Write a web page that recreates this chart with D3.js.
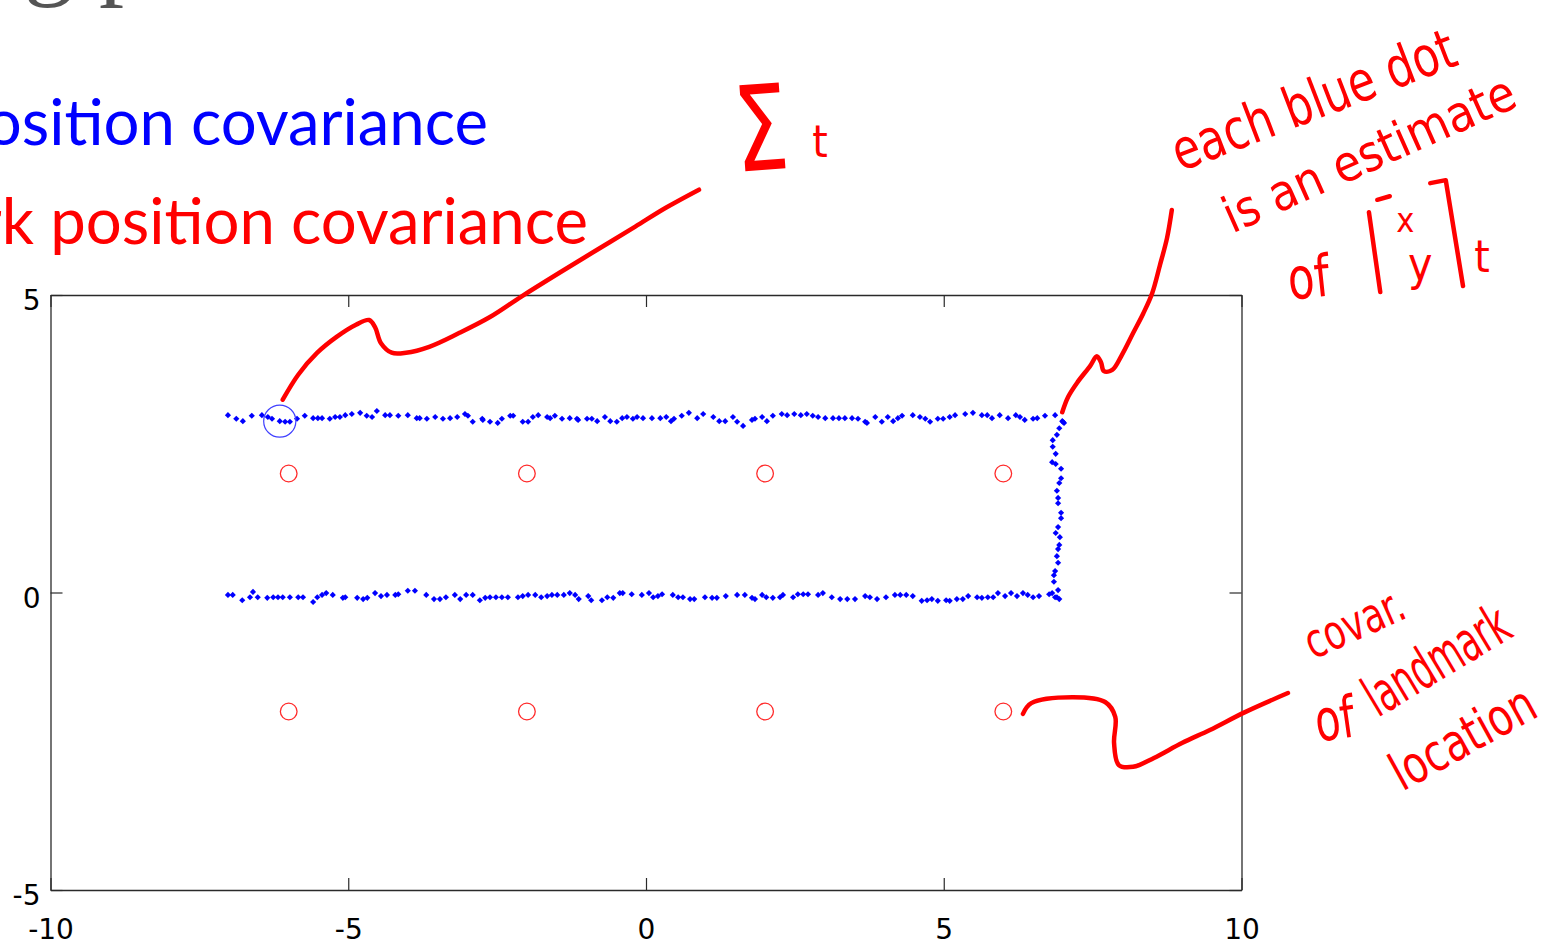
<!DOCTYPE html>
<html>
<head>
<meta charset="utf-8">
<script src="https://cdn.jsdelivr.net/npm/d3@7"></script>
<style>
  html, body { margin: 0; padding: 0; background: #fff; overflow: hidden; }
</style>
</head>
<body>
<svg id="chart" width="1548" height="943"></svg>
<script>
// ---- Axis ticks ----
const xTicks = [-10, -5, 0, 5, 10];
const yTicks = [-5, 0, 5];

// ---- Robot position estimates: bottom leg (y ~ 0) ----
const bottomX = [-7.02,-6.94,-6.78,-6.65,-6.60,-6.52,-6.36,-6.26,-6.18,-6.10,
  -5.98,-5.84,-5.76,-5.59,-5.52,-5.44,-5.37,-5.26,-5.09,-5.05,
  -4.85,-4.75,-4.68,-4.55,-4.45,-4.35,-4.21,-4.16,-4.00,-3.88,
  -3.69,-3.56,-3.46,-3.36,-3.21,-3.12,-3.02,-2.91,-2.79,-2.70,
  -2.62,-2.52,-2.42,-2.32,-2.15,-2.07,-1.98,-1.86,-1.76,-1.66,
  -1.58,-1.49,-1.38,-1.28,-1.19,-1.13,-0.97,-0.92,-0.74,-0.65,
  -0.55,-0.44,-0.39,-0.24,-0.07,0.05,0.12,0.20,0.27,0.45,
  0.54,0.62,0.74,0.81,0.99,1.11,1.19,1.34,1.53,1.66,
  1.78,1.83,1.95,2.02,2.13,2.25,2.30,2.47,2.55,2.64,
  2.72,2.89,2.97,3.12,3.26,3.38,3.51,3.68,3.76,3.88,
  4.03,4.18,4.27,4.37,4.48,4.63,4.72,4.80,4.90,5.04,
  5.10,5.22,5.32,5.41,5.56,5.64,5.74,5.83,5.91,6.03,
  6.13,6.23,6.33,6.41,6.50,6.60,6.77,6.87];
const bottomY = [-0.04,-0.04,-0.13,-0.08,0.01,-0.08,-0.09,-0.08,-0.08,-0.08,
  -0.08,-0.08,-0.08,-0.16,-0.08,-0.04,-0.01,-0.04,-0.09,-0.08,
  -0.09,-0.11,-0.09,-0.01,-0.06,-0.04,-0.04,-0.03,0.03,0.03,
  -0.04,-0.11,-0.11,-0.08,-0.04,-0.11,-0.04,-0.04,-0.13,-0.09,
  -0.08,-0.08,-0.08,-0.08,-0.08,-0.06,-0.04,-0.04,-0.08,-0.06,
  -0.04,-0.04,-0.04,-0.01,-0.04,-0.11,-0.06,-0.13,-0.13,-0.08,
  -0.09,-0.01,-0.01,-0.03,-0.04,-0.01,-0.08,-0.06,-0.03,-0.04,
  -0.08,-0.08,-0.11,-0.11,-0.08,-0.09,-0.09,-0.06,-0.04,-0.04,
  -0.09,-0.11,-0.04,-0.08,-0.09,-0.08,-0.04,-0.08,-0.03,-0.03,
  -0.03,-0.04,-0.01,-0.08,-0.11,-0.11,-0.11,-0.06,-0.08,-0.11,
  -0.08,-0.04,-0.04,-0.04,-0.06,-0.14,-0.13,-0.11,-0.14,-0.13,
  -0.14,-0.11,-0.11,-0.06,-0.08,-0.09,-0.08,-0.08,-0.01,-0.06,
  -0.01,-0.06,-0.01,-0.04,-0.08,-0.06,-0.03,-0.08];

// ---- Robot position estimates: side leg (x ~ 7) ----
const sideX = [7.02,6.94,6.90,6.83,6.83,6.88,6.82,6.88,6.97,6.97,
  6.94,6.90,6.92,6.92,6.97,6.97,6.92,6.88,6.95,6.94,
  6.92,6.90,6.92,6.87,6.85,6.85,6.92,6.82,6.90,6.94];
const sideY = [2.85,2.76,2.65,2.56,2.45,2.33,2.19,2.16,2.08,1.92,
  1.84,1.71,1.59,1.50,1.34,1.25,1.10,1.00,0.93,0.80,
  0.73,0.61,0.50,0.36,0.29,0.18,0.04,-0.01,-0.08,-0.11];

// ---- Robot position estimates: top leg (y ~ 3) ----
const topX = [-7.02,-6.88,-6.77,-6.62,-6.45,-6.35,-6.28,-6.15,-6.06,-5.98,
  -5.86,-5.73,-5.59,-5.51,-5.44,-5.31,-5.22,-5.14,-5.05,-4.94,
  -4.80,-4.69,-4.60,-4.52,-4.38,-4.30,-4.16,-4.00,-3.85,-3.80,
  -3.68,-3.54,-3.41,-3.29,-3.17,-3.04,-2.99,-2.91,-2.75,-2.74,
  -2.62,-2.49,-2.42,-2.28,-2.23,-2.07,-1.98,-1.90,-1.81,-1.66,
  -1.61,-1.53,-1.41,-1.28,-1.16,-1.14,-0.99,-0.91,-0.82,-0.69,
  -0.60,-0.49,-0.40,-0.32,-0.22,-0.15,-0.05,0.10,0.24,0.34,
  0.42,0.47,0.60,0.72,0.86,0.96,1.13,1.23,1.33,1.46,
  1.53,1.63,1.78,1.83,1.95,2.03,2.13,2.28,2.37,2.49,
  2.60,2.70,2.80,2.89,3.01,3.14,3.24,3.34,3.46,3.56,
  3.68,3.71,3.85,3.96,4.06,4.15,4.23,4.30,4.48,4.60,
  4.69,4.77,4.90,4.99,5.10,5.19,5.36,5.49,5.64,5.73,
  5.81,5.94,6.08,6.21,6.28,6.36,6.50,6.57,6.70,6.87,
  6.99,7.00];
const topY = [2.98,2.92,2.88,2.97,2.98,2.95,2.92,2.88,2.87,2.87,
  2.92,2.97,2.93,2.93,2.93,2.92,2.95,2.95,2.98,3.00,
  3.02,2.97,2.95,3.05,2.98,2.98,2.97,2.98,2.93,2.93,
  2.92,2.95,2.92,2.93,2.95,3.00,2.97,2.87,2.92,2.90,
  2.87,2.85,2.92,2.97,2.97,2.87,2.87,2.95,2.98,2.95,
  2.93,2.97,2.92,2.93,2.92,2.90,2.92,2.92,2.88,2.95,
  2.88,2.87,2.93,2.95,2.92,2.95,2.93,2.93,2.93,2.95,
  2.88,2.92,2.97,3.02,2.93,3.00,2.95,2.88,2.88,2.95,
  2.87,2.80,2.90,2.92,2.95,2.88,2.97,3.00,2.98,3.00,
  2.98,3.00,2.97,2.95,2.93,2.93,2.93,2.93,2.93,2.92,
  2.87,2.85,2.95,2.87,2.95,2.88,2.93,2.97,2.98,2.95,
  2.92,2.87,2.92,2.92,2.95,2.98,3.00,3.02,2.98,2.98,
  2.93,2.98,2.93,2.98,2.95,2.90,2.92,2.93,2.97,2.98,
  2.88,2.87];

// ---- Current robot covariance (circle) ----
const robotCovCenter = [-6.15, 2.88];
const robotCovRadius = [0.27, 0.27];

// ---- Landmarks and their covariance radii ----
const landmarkX = [-6, -2, 2, 6, -6, -2, 2, 6];
const landmarkY = [2, 2, 2, 2, -2, -2, -2, -2];
const landmarkRadius = [0.14, 0.14, 0.14, 0.14, 0.14, 0.14, 0.14, 0.14];

// ---- Hand-drawn pointer strokes (in plot units) ----
const sigmaPointer = [[-6.10,3.24],[-5.84,3.66],[-5.52,4.03],[-5.19,4.30],[-4.87,4.50],
  [-4.65,4.58],[-4.55,4.46],[-4.45,4.19],[-4.27,4.03],[-4.03,4.03],[-3.64,4.13],
  [-3.14,4.36],[-2.62,4.63],[-2.10,4.97],[-1.46,5.37],[-0.82,5.76],[-0.18,6.15],
  [0.34,6.47],[0.89,6.77]];
const estimatePointer = [[6.99,3.03],[7.09,3.29],[7.25,3.54],[7.46,3.81],[7.57,3.97],
  [7.64,3.87],[7.69,3.72],[7.83,3.74],[7.99,3.99],[8.18,4.36],[8.35,4.69],
  [8.50,5.03],[8.63,5.50],[8.75,5.96],[8.83,6.43]];
const landmarkPointer = [[6.33,-2.04],[6.47,-1.86],[7.17,-1.76],[7.71,-1.84],[7.88,-2.09],
  [7.86,-2.53],[7.94,-2.90],[8.18,-2.93],[8.53,-2.78],[9.00,-2.53],[9.47,-2.31],
  [10.06,-2.01],[10.78,-1.69]];
const bracketStrokes = [
  [[12.28,6.60],[12.49,6.66]],
  [[12.14,6.39],[12.33,5.05]],
  [[13.17,6.88],[13.43,6.93],[13.72,5.15]]
];

// ---- Texts ----
const titleText = "Tracking position";
const robotLegend = "Robot position covariance";
const landmarkLegend = "Landmark position covariance";

const svg = d3.select("#chart");

const x = d3.scaleLinear().domain([-10, 10]).range([50.5, 1241.5]);
const y = d3.scaleLinear().domain([-5, 5]).range([890, 295]);

const legendFont = "Lato, 'Open Sans', sans-serif";
const handFont = "'DejaVu Sans Condensed', 'DejaVu Sans', sans-serif";

// Title, mostly above the visible area
{
  const probe = svg.append("text")
    .attr("font-family", "'Liberation Serif', serif").attr("font-size", 100)
    .text("Tracking ");
  const w = probe.node().getComputedTextLength();
  probe.remove();
  svg.append("text")
    .attr("x", 74 - w).attr("y", -13)
    .attr("font-family", "'Liberation Serif', serif").attr("font-size", 100)
    .attr("fill", "#555")
    .text(titleText);
}

// Legend captions, sized so "position covariance" spans the same width in both
{
  const probe = svg.append("text")
    .attr("font-family", legendFont).attr("font-size", 100)
    .text("position covariance");
  const w = probe.node().getComputedTextLength();
  probe.remove();
  const fs = 100 * 538 / w;
  svg.append("text")
    .attr("x", 488).attr("y", 145).attr("text-anchor", "end")
    .attr("font-family", legendFont).attr("font-size", fs)
    .attr("fill", "#0000ff").text(robotLegend);
  svg.append("text")
    .attr("x", 588).attr("y", 244).attr("text-anchor", "end")
    .attr("font-family", legendFont).attr("font-size", fs)
    .attr("fill", "#ff0000").text(landmarkLegend);
}

// Axes: labelled bottom/left, mirrored ticks on top/right, all ticks inward
const axisColor = "#2a2a2a";
function styleAxis(g) {
  g.select(".domain").attr("stroke", axisColor).attr("stroke-width", 1.3);
  g.selectAll(".tick line").attr("stroke", axisColor).attr("stroke-width", 1.2);
  g.selectAll(".tick text")
    .attr("font-family", "'DejaVu Sans', sans-serif")
    .attr("font-size", 28).attr("fill", "#000");
}
svg.append("g")
  .attr("transform", `translate(0,${y(-5)})`)
  .call(d3.axisBottom(x).tickValues(xTicks).tickSize(-12).tickSizeOuter(0)
    .tickPadding(29).tickFormat(d => String(d)))
  .call(styleAxis);
svg.append("g")
  .attr("transform", `translate(0,${y(5)})`)
  .call(d3.axisTop(x).tickValues(xTicks).tickSize(-12).tickSizeOuter(0)
    .tickFormat(() => ""))
  .call(styleAxis);
const gLeft = svg.append("g")
  .attr("transform", `translate(${x(-10)},0)`)
  .call(d3.axisLeft(y).tickValues(yTicks).tickSize(-12).tickSizeOuter(0)
    .tickPadding(10).tickFormat(d => String(d)))
  .call(styleAxis);
gLeft.selectAll(".tick text").attr("dy", "0.53em");
svg.append("g")
  .attr("transform", `translate(${x(10)},0)`)
  .call(d3.axisRight(y).tickValues(yTicks).tickSize(-12).tickSizeOuter(0)
    .tickFormat(() => ""))
  .call(styleAxis);

// Landmark covariance circles
svg.append("g").selectAll("ellipse")
  .data(landmarkX.map((d, i) => ({ x: d, y: landmarkY[i], r: landmarkRadius[i] })))
  .join("ellipse")
  .attr("cx", d => x(d.x)).attr("cy", d => y(d.y))
  .attr("rx", d => x(d.x + d.r) - x(d.x))
  .attr("ry", d => y(d.y) - y(d.y + d.r))
  .attr("fill", "none").attr("stroke", "#ff2b2b").attr("stroke-width", 1.3);

// Robot position estimates
const robotPts = []
  .concat(bottomX.map((d, i) => [d, bottomY[i]]))
  .concat(sideX.map((d, i) => [d, sideY[i]]))
  .concat(topX.map((d, i) => [d, topY[i]]));
const dot = d3.symbol().type(d3.symbolSquare).size(19);
svg.append("g").selectAll("path")
  .data(robotPts)
  .join("path")
  .attr("d", dot)
  .attr("transform", d => `translate(${x(d[0])},${y(d[1])}) rotate(45)`)
  .attr("fill", "#0000ff");

// Current robot covariance
svg.append("ellipse")
  .attr("cx", x(robotCovCenter[0])).attr("cy", y(robotCovCenter[1]))
  .attr("rx", x(robotCovCenter[0] + robotCovRadius[0]) - x(robotCovCenter[0]))
  .attr("ry", y(robotCovCenter[1]) - y(robotCovCenter[1] + robotCovRadius[1]))
  .attr("fill", "none").attr("stroke", "#4040ff").attr("stroke-width", 1.2);

// Hand-drawn annotations
const ann = svg.append("g").attr("fill", "#ff0000");
const stroke = d3.line().x(d => x(d[0])).y(d => y(d[1])).curve(d3.curveCatmullRom.alpha(0.5));
[sigmaPointer, estimatePointer, landmarkPointer].forEach(p => {
  ann.append("path").attr("d", stroke(p))
    .attr("fill", "none").attr("stroke", "#ff0000").attr("stroke-width", 4.5)
    .attr("stroke-linecap", "round").attr("stroke-linejoin", "round");
});
bracketStrokes.forEach(p => {
  ann.append("path").attr("d", d3.line().x(d => x(d[0])).y(d => y(d[1]))(p))
    .attr("fill", "none").attr("stroke", "#ff0000").attr("stroke-width", 4.5)
    .attr("stroke-linecap", "round").attr("stroke-linejoin", "round");
});

function scrawl(str, dx, dy, angle, size, length, anchor) {
  const t = ann.append("text")
    .attr("transform", `translate(${x(dx)},${y(dy)}) rotate(${angle})`)
    .attr("font-family", handFont).attr("font-stretch", "condensed")
    .attr("font-size", size)
    .attr("text-anchor", anchor || "start")
    .text(str);
  if (length) t.attr("textLength", length).attr("lengthAdjust", "spacingAndGlyphs");
  return t;
}

scrawl("Σ", 1.53, 7.07, -4, 118, 54);
scrawl("t", 2.79, 7.32, 0, 44);

scrawl("each blue dot", 8.97, 7.07, -21, 56, 300);
scrawl("is an estimate", 9.84, 6.03, -24, 50, 315);
scrawl("of", 10.81, 4.92, -6, 58, 42);
scrawl("x", 12.75, 6.06, 0, 34, null, "middle");
scrawl("y", 13.0, 5.25, 0, 46, null, "middle");
scrawl("t", 14.04, 5.39, 0, 44, null, "middle");

scrawl("covar.", 11.20, -1.13, -24, 48, 105);
scrawl("of", 11.28, -2.51, -8, 58, 40);
scrawl("landmark", 12.29, -2.11, -31, 56, 160);
scrawl("location", 12.70, -3.35, -29, 52, 158);
</script>
</body>
</html>
